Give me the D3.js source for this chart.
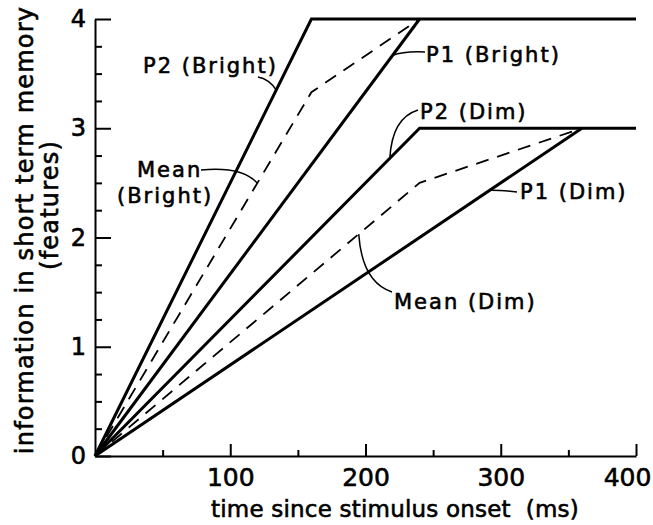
<!DOCTYPE html>
<html>
<head>
<meta charset="utf-8">
<script src="https://cdn.jsdelivr.net/npm/d3@7"></script>
<style>
body { margin: 0; background: #fff; }
text { font-family: "DejaVu Sans", sans-serif; fill: #000; stroke: #000; stroke-width: 0.6px; }
</style>
</head>
<body>
<script>
// time (ms) / features
var brightP2 = [[0, 0], [160, 4], [400, 4]];
var brightP1 = [[0, 0], [240, 4]];
var brightMean = [[0, 0], [160, 3.33], [240, 4]];
var dimP2 = [[0, 0], [240, 3], [400, 3]];
var dimP1 = [[0, 0], [360, 3]];
var dimMean = [[0, 0], [240, 2.5], [360, 3]];

var xMajor = [100, 200, 300, 400];
var xMinor = [50, 150, 250, 350];
var yMajor = [0, 1, 2, 3, 4];
var yMinor = [0.25, 0.5, 0.75, 1.25, 1.5, 1.75, 2.25, 2.5, 2.75, 3.25, 3.5, 3.75];

var width = 653, height = 525;

var svg = d3.select("body").append("svg")
.attr("width", width)
.attr("height", height);

var x = d3.scaleLinear().domain([0, 400]).range([95, 636]);
var y = d3.scaleLinear().domain([0, 4]).range([456, 19]);

// axes, ticks pointing into the plot
var xAxis = svg.append("g")
.attr("transform", "translate(0," + y(0) + ")")
.call(d3.axisBottom(x).tickValues(xMajor).tickSizeInner(-12).tickSizeOuter(0).tickPadding(12).tickFormat(d3.format("d")));
svg.append("g")
.attr("transform", "translate(0," + y(0) + ")")
.call(d3.axisBottom(x).tickValues(xMinor).tickSizeInner(-6).tickSizeOuter(0).tickFormat(""))
.select(".domain").remove();

var yAxis = svg.append("g")
.attr("transform", "translate(" + x(0) + ",0)")
.call(d3.axisLeft(y).tickValues(yMajor).tickSizeInner(-16).tickSizeOuter(0).tickPadding(9).tickFormat(d3.format("d")));
svg.append("g")
.attr("transform", "translate(" + x(0) + ",0)")
.call(d3.axisLeft(y).tickValues(yMinor).tickSizeInner(-7).tickSizeOuter(0).tickFormat(""))
.select(".domain").remove();

svg.selectAll(".domain, .tick line")
.attr("stroke", "#000")
.attr("stroke-width", 2);
svg.selectAll(".tick text")
.attr("font-family", "DejaVu Sans")
.attr("font-size", 25)
.attr("fill", "#000");
yAxis.selectAll(".tick text").attr("font-size", 24);
// last label is pulled in so it stays on the page
xAxis.selectAll(".tick text").filter(function(d) { return d === 400; }).attr("dx", -9);

// lines
var line = d3.line().x(function(d) { return x(d[0]); }).y(function(d) { return y(d[1]); });

[brightP2, brightP1, dimP2, dimP1].forEach(function(s) {
  svg.append("path")
  .datum(s)
  .attr("d", line)
  .attr("fill", "none")
  .attr("stroke", "#000")
  .attr("stroke-width", 3)
  .attr("stroke-linejoin", "miter");
});

[brightMean, dimMean].forEach(function(s) {
  svg.append("path")
  .datum(s)
  .attr("d", line)
  .attr("fill", "none")
  .attr("stroke", "#000")
  .attr("stroke-width", 1.8)
  .attr("stroke-dasharray", "13,9");
});

// value of a series at time t
function valueAt(s, t) {
  for (var i = 1; i < s.length; i++) {
    if (t <= s[i][0]) {
      var a = s[i - 1], b = s[i];
      return a[1] + (b[1] - a[1]) * (t - a[0]) / (b[0] - a[0]);
    }
  }
  return s[s.length - 1][1];
}

// labels with curved leaders
var labels = [
  { lines: ["P2 (Bright)"], tx: [143], ty: [73], s: brightP2, t: 134, from: [258, 77], c: [269, 79] },
  { lines: ["Mean", "(Bright)"], tx: [137, 117], ty: [177, 203], s: brightMean, t: 120, from: [201, 170], c: [242, 166] },
  { lines: ["P1 (Bright)"], tx: [426], ty: [62], s: brightP1, t: 220, from: [425, 52], c: [404, 51] },
  { lines: ["P2 (Dim)"], tx: [420], ty: [119], s: dimP2, t: 218, from: [418, 110], c: [392, 118] },
  { lines: ["P1 (Dim)"], tx: [520], ty: [199], s: dimP1, t: 292, from: [517, 192], c: [500, 190] },
  { lines: ["Mean (Dim)"], tx: [394], ty: [309], s: dimMean, t: 195, from: [392, 292], c: [362, 282] }
];

labels.forEach(function(l) {
  l.lines.forEach(function(txt, i) {
    svg.append("text")
    .attr("x", l.tx[i])
    .attr("y", l.ty[i])
    .attr("font-size", 21)
    .attr("letter-spacing", 2)
    .text(txt);
  });
  var ex = x(l.t), ey = y(valueAt(l.s, l.t));
  svg.append("path")
  .attr("d", "M" + l.from[0] + "," + l.from[1] + "Q" + l.c[0] + "," + l.c[1] + " " + ex + "," + ey)
  .attr("fill", "none")
  .attr("stroke", "#000")
  .attr("stroke-width", 1.5);
});

// axis titles
svg.append("text")
.attr("x", 395)
.attr("y", 517)
.attr("text-anchor", "middle")
.attr("font-size", 23)
.attr("letter-spacing", 0.2)
.attr("xml:space", "preserve")
.text("time since stimulus onset  (ms)");

svg.append("text")
.attr("transform", "translate(33,230) rotate(-90)")
.attr("text-anchor", "middle")
.attr("font-size", 24)
.attr("letter-spacing", 1.2)
.text("information in short term memory");

svg.append("text")
.attr("transform", "translate(58,205) rotate(-90)")
.attr("text-anchor", "middle")
.attr("font-size", 24)
.attr("letter-spacing", 1.2)
.text("(features)");
</script>
</body>
</html>
